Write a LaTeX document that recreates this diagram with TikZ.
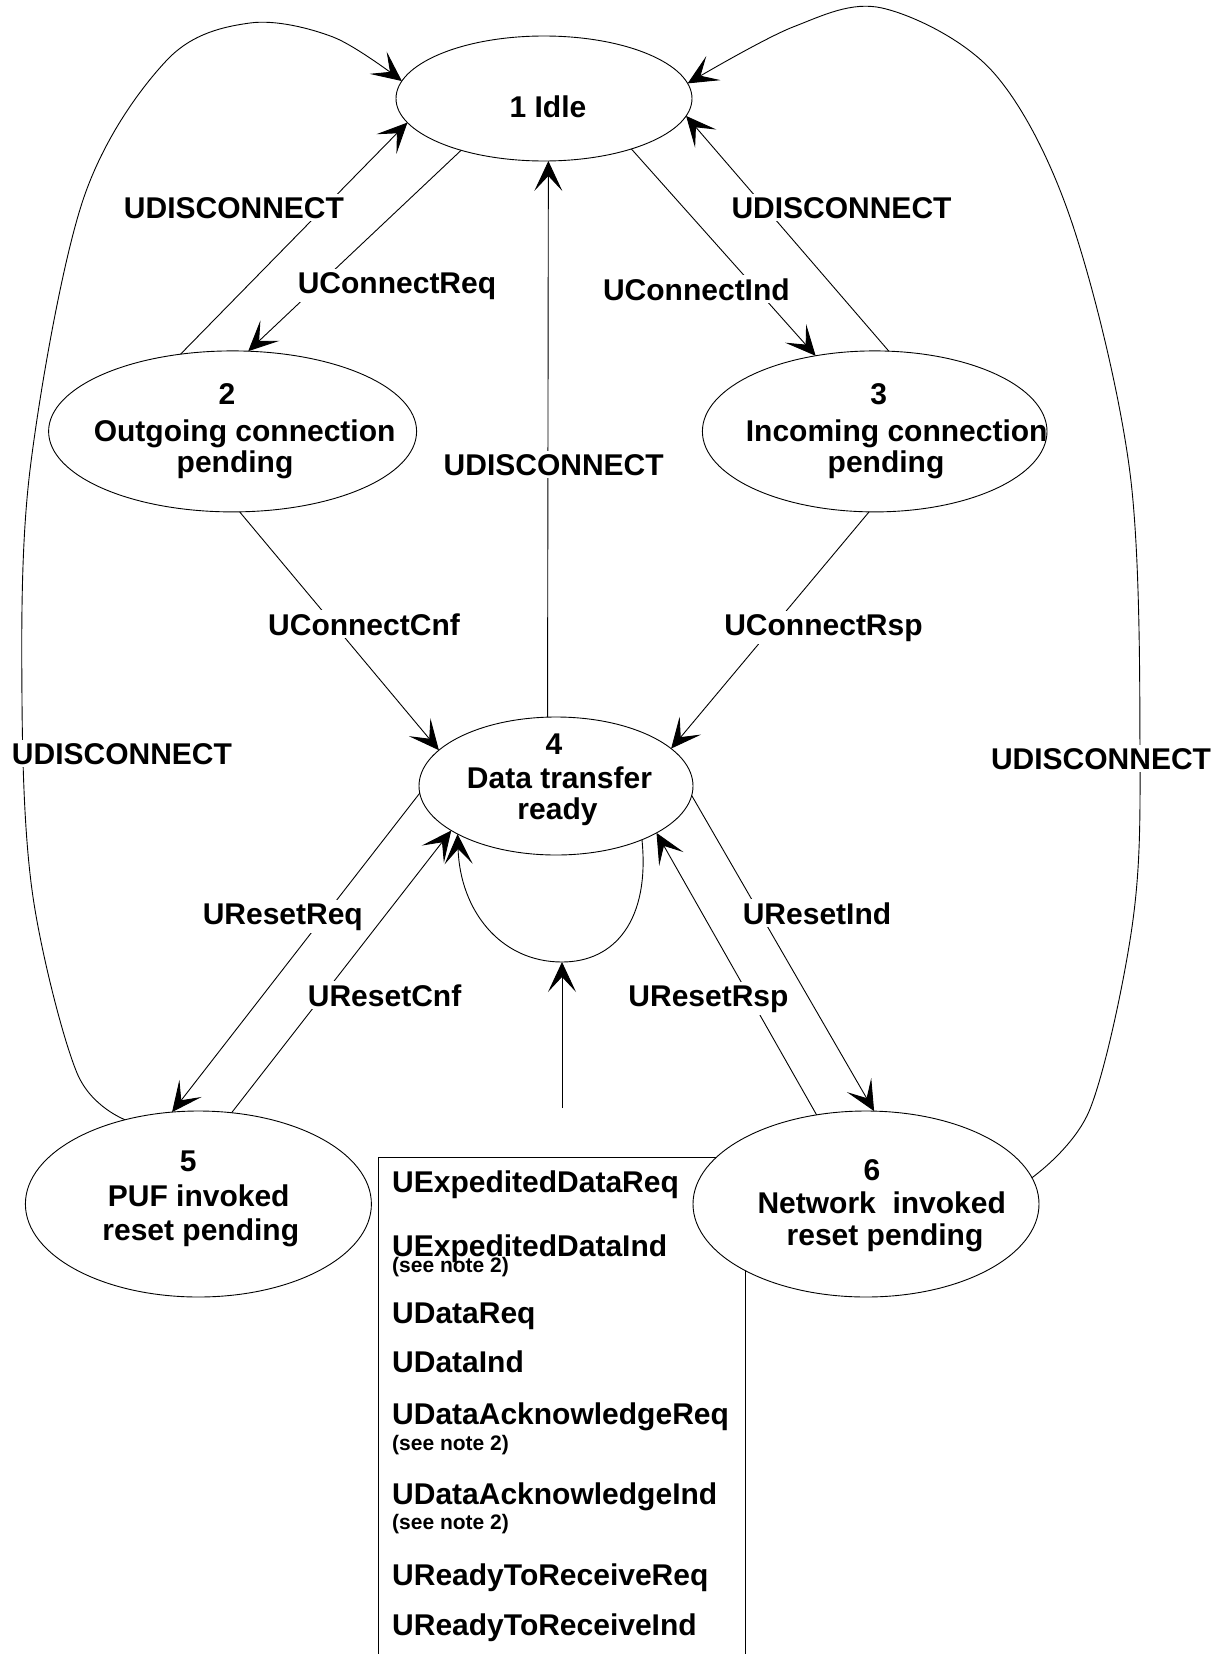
\documentclass[tikz,border=0pt]{standalone}
\usepackage{fontspec}
\setmainfont{Liberation Sans}
\usetikzlibrary{shapes.geometric, arrows.meta}

\begin{document}
\begin{tikzpicture}[x=1pt, y=-1pt,
  every node/.style={font=\fontsize{30}{34}\selectfont\bfseries},
  state/.style={draw, ellipse, fill=white, inner sep=0pt, outer sep=0pt, line width=0.9pt},
  lbl/.style={fill=white, inner sep=3pt, anchor=base},
  txt/.style={inner sep=0pt, anchor=base},
  item/.style={inner sep=0pt, anchor=base west},
  note/.style={inner sep=0pt, anchor=base west, font=\fontsize{21}{24}\selectfont\bfseries},
  arr/.style={line width=0.9pt, -{Stealth[length=30pt, width=28pt, inset=15pt]}},
]
\useasboundingbox (0,0) rectangle (1227,1654);

% list of messages handled in state 4
\node[draw, line width=0.9pt, inner sep=0pt, anchor=north west,
      minimum width=367.4pt, minimum height=520pt] (msgbox) at (377.6,1156.7) {};

% states
\node[state, minimum width=296pt, minimum height=125pt] (n1) at (544,98.5) {};
\node[state, minimum width=368pt, minimum height=161pt] (n2) at (232.6,431.4) {};
\node[state, minimum width=344.6pt, minimum height=161pt] (n3) at (874.7,431.4) {};
\node[state, minimum width=274pt, minimum height=138pt] (n4) at (556,786) {};
\node[state, minimum width=346pt, minimum height=186pt] (n5) at (198.4,1204) {};
\node[state, minimum width=346pt, minimum height=186pt] (n6) at (866,1204) {};

% long return paths to Idle
\draw[arr] plot[smooth, tension=0.55] coordinates {(n5.131) (77,1073) (33,897) (22,700) (30,470) (83,200) (167,60) (250,23) (333,37) (n1.173)};
\draw[arr] plot[smooth, tension=0.55] coordinates {(n6.9) (1090,1109) (1132,927) (1140,760) (1130,473) (1071,220) (993,72) (882,8) (793,27) (n1.6)};

% transitions
\draw[arr] (n2.124) -- (n1.190);
\draw[arr] (n1.212) -- (n2.79);
\draw[arr] (n1.330) -- (n3.128);
\draw[arr] (n3.80) -- (n1.353);
\draw[arr] (n4.97) -- (n1.274);
\draw[arr] (n2.275) -- (n4.163);
\draw[arr] (n3.266) -- (n4.18);
\draw[arr] (n4.183) -- (n5.106);
\draw[arr] (n5.70) -- (n4.203);
\draw[arr] (n6.119) -- (n4.335);
\draw[arr] (n4.356) -- (n6.85);

% self transition of state 4, fed by the message list
\coordinate (loopbot) at (562,962);
\coordinate (boxin) at (562,1108);
\draw[arr] (n4.328) .. controls (650,920) and (615,962) .. (loopbot)
           .. controls (500,962) and (460,910) .. (n4.206);
\draw[arr] (boxin) -- (loopbot);

% transition labels
\node[lbl] (l1)  at (122,764)    {UDISCONNECT};
\node[lbl] (l2)  at (1101,769)   {UDISCONNECT};
\node[lbl] (l3)  at (234,218)    {UDISCONNECT};
\node[lbl] (l4)  at (397,293)    {UConnectReq};
\node[lbl] (l5)  at (696.4,300)  {UConnectInd};
\node[lbl] (l6)  at (841.5,218)  {UDISCONNECT};
\node[lbl] (l7)  at (553.7,475)  {UDISCONNECT};
\node[lbl] (l8)  at (364,635)    {UConnectCnf};
\node[lbl] (l9)  at (823.5,635)  {UConnectRsp};
\node[lbl] (l10) at (282.8,924)  {UResetReq};
\node[lbl] (l11) at (384.6,1006) {UResetCnf};
\node[lbl] (l12) at (708.5,1006) {UResetRsp};
\node[lbl] (l13) at (817,924)    {UResetInd};

% state texts
\node[txt] (t1)  at (548,117.3)  {1 Idle};
\node[txt] (t2a) at (227,404)    {2};
\node[txt] (t2b) at (244.6,441)  {Outgoing connection};
\node[txt] (t2c) at (235,472)    {pending};
\node[txt] (t3a) at (878.7,404)  {3};
\node[txt] (t3b) at (896.7,441)  {Incoming connection};
\node[txt] (t3c) at (886,472)    {pending};
\node[txt] (t4a) at (554,754.3)  {4};
\node[txt] (t4b) at (559.5,788)  {Data transfer};
\node[txt] (t4c) at (557.5,819)  {ready};
\node[txt] (t5a) at (188.3,1171.7) {5};
\node[txt] (t5b) at (198.7,1206.7) {PUF invoked};
\node[txt] (t5c) at (200.8,1240)   {reset pending};
\node[txt] (t6a) at (872,1180)     {6};
\node[txt] (t6b) at (881.7,1213.3) {Network~~invoked};
\node[txt] (t6c) at (885,1245)     {reset pending};

% message list
\node[item] (m1)  at (392,1192) {UExpeditedDataReq};
\node[item] (m2)  at (392,1256) {UExpeditedDataInd};
\node[note] (m2n) at (392,1272) {(see note 2)};
\node[item] (m3)  at (392,1323) {UDataReq};
\node[item] (m4)  at (392,1372) {UDataInd};
\node[item] (m5)  at (392,1424) {UDataAcknowledgeReq};
\node[note] (m5n) at (392,1450) {(see note 2)};
\node[item] (m6)  at (392,1504) {UDataAcknowledgeInd};
\node[note] (m6n) at (392,1529) {(see note 2)};
\node[item] (m7)  at (392,1585) {UReadyToReceiveReq};
\node[item] (m8)  at (392,1635) {UReadyToReceiveInd};
\end{tikzpicture}
\end{document}
